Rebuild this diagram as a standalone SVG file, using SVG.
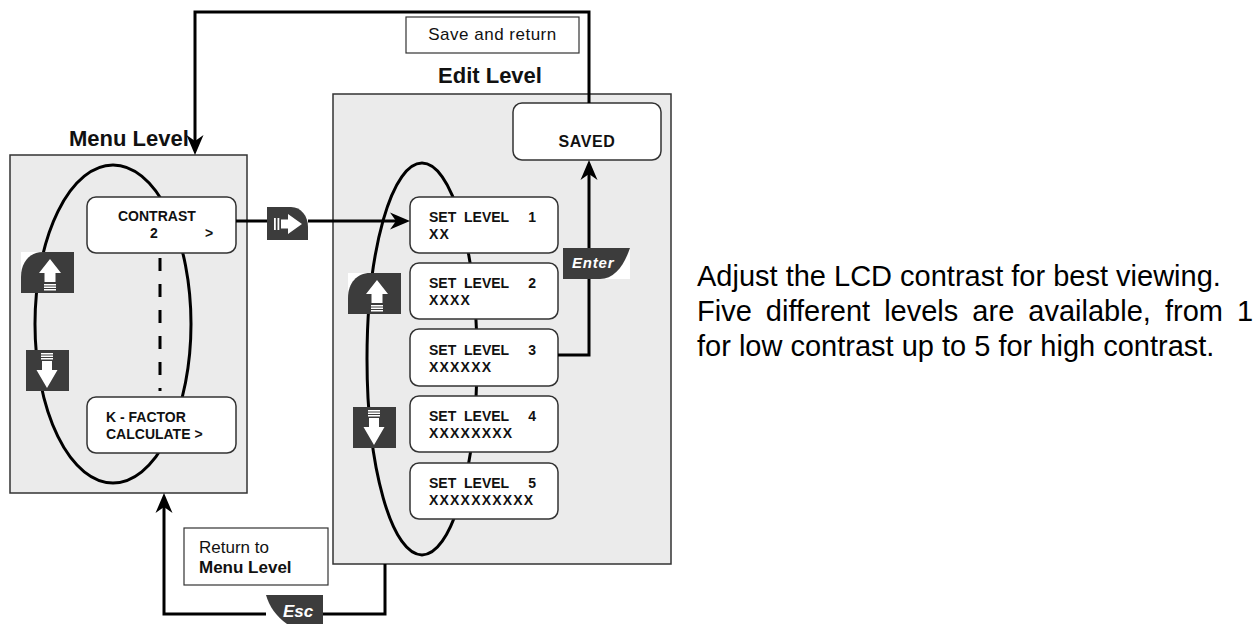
<svg xmlns="http://www.w3.org/2000/svg" xmlns:xlink="http://www.w3.org/1999/xlink" width="1257" height="624" viewBox="0 0 1257 624">
<style>
.panel{fill:#ebebeb;stroke:#333;stroke-width:1.5}
.box{fill:#fff;stroke:#333;stroke-width:1.5}
.lbl{fill:#fff;stroke:#333;stroke-width:1.2}
.loop{fill:none;stroke:#000;stroke-width:3}
.conn{fill:none;stroke:#000;stroke-width:3}
.title{font-family:"Liberation Sans",Arial,sans-serif;font-weight:bold;font-size:22px;fill:#111}
.bt{font-family:"Liberation Sans",Arial,sans-serif;font-weight:bold;font-size:14px;fill:#111}
.xs{letter-spacing:1.2px}
.reg{font-family:"Liberation Sans",Arial,sans-serif;font-size:17px;fill:#111}
.key{font-family:"Liberation Sans",Arial,sans-serif;font-weight:bold;font-style:italic;fill:#fff}
.desc{font-family:"Liberation Sans",Arial,sans-serif;font-size:29px;fill:#000}
.ic{fill:#3c3c3c}
.w{fill:#fff}
</style>
<defs>
<marker id="ah" markerUnits="userSpaceOnUse" markerWidth="20" markerHeight="20" viewBox="0 0 20 20" refX="14" refY="10" orient="auto">
<path d="M0,1.5 L20,10 L0,18.5 L6,10 Z" fill="#000"/>
</marker>
<g id="upIcon">
<rect x="0" y="0" width="53" height="41" fill="#fff"/>
<path class="ic" d="M0,41 V25 C0,10 9,0 22,0 H53 V41 Z"/>
<path class="w" d="M29,7 L40,21 L34.5,21 L34.5,30 L23.5,30 L23.5,21 L18,21 Z"/>
<rect class="w" x="23" y="32" width="12" height="1.5"/>
<rect class="w" x="23" y="34.5" width="12" height="1.5"/>
<rect class="w" x="23" y="37" width="12" height="1.5"/>
</g>
<g id="downIcon">
<rect class="ic" x="0" y="0" width="43" height="41"/>
<rect class="w" x="15" y="3" width="12" height="1.5"/>
<rect class="w" x="15" y="5.5" width="12" height="1.5"/>
<rect class="w" x="15" y="8" width="12" height="1.5"/>
<path class="w" d="M16,11 H26 V20 H31.5 L21,38 L10.5,20 H16 Z"/>
</g>
</defs>

<g id="menu-level">
<rect class="panel" x="10" y="155" width="237" height="338"/>
<text class="title" x="69" y="146">Menu Level</text>
<ellipse class="loop" cx="113" cy="324" rx="78" ry="159"/>
<line x1="160" y1="258" x2="160" y2="391" stroke="#000" stroke-width="3" stroke-dasharray="13 13"/>
</g>

<g id="edit-level">
<rect class="panel" x="333" y="94" width="338" height="470"/>
<text class="title" x="490" y="83" text-anchor="middle">Edit Level</text>
<ellipse class="loop" cx="422" cy="359" rx="55" ry="196"/>
</g>

<g id="contrast">
<rect class="box" x="87" y="197" width="149" height="56" rx="9"/>
<text class="bt" x="118" y="221">CONTRAST</text>
<text class="bt" x="150" y="238">2</text>
<text class="bt" x="205" y="238">&gt;</text>
</g>

<g id="kfactor">
<rect class="box" x="87" y="397" width="149" height="56" rx="9"/>
<text class="bt" x="106" y="422">K - FACTOR</text>
<text class="bt" x="106" y="439">CALCULATE &gt;</text>
</g>

<g id="set-level-1">
<rect class="box" x="410" y="197" width="148" height="56" rx="9"/>
<text class="bt" x="429" y="222" xml:space="preserve">SET  LEVEL</text>
<text class="bt" x="536" y="222" text-anchor="end">1</text>
<text class="bt xs" x="429" y="239">XX</text>
</g>
<g id="set-level-2">
<rect class="box" x="410" y="263" width="148" height="56" rx="9"/>
<text class="bt" x="429" y="288" xml:space="preserve">SET  LEVEL</text>
<text class="bt" x="536" y="288" text-anchor="end">2</text>
<text class="bt xs" x="429" y="305">XXXX</text>
</g>
<g id="set-level-3">
<rect class="box" x="410" y="329" width="148" height="57" rx="9"/>
<text class="bt" x="429" y="355" xml:space="preserve">SET  LEVEL</text>
<text class="bt" x="536" y="355" text-anchor="end">3</text>
<text class="bt xs" x="429" y="372">XXXXXX</text>
</g>
<g id="set-level-4">
<rect class="box" x="410" y="396" width="148" height="56" rx="9"/>
<text class="bt" x="429" y="421" xml:space="preserve">SET  LEVEL</text>
<text class="bt" x="536" y="421" text-anchor="end">4</text>
<text class="bt xs" x="429" y="438">XXXXXXXX</text>
</g>
<g id="set-level-5">
<rect class="box" x="410" y="463" width="148" height="56" rx="9"/>
<text class="bt" x="429" y="488" xml:space="preserve">SET  LEVEL</text>
<text class="bt" x="536" y="488" text-anchor="end">5</text>
<text class="bt xs" x="429" y="505">XXXXXXXXXX</text>
</g>

<g id="saved">
<rect class="box" x="513" y="103" width="148" height="57" rx="9"/>
<text class="bt" x="587" y="147" text-anchor="middle" style="font-size:16px;letter-spacing:0.6px">SAVED</text>
</g>

<g id="save-and-return">
<rect class="lbl" x="406" y="17" width="173" height="36"/>
<text class="reg" x="492.5" y="40" text-anchor="middle" style="letter-spacing:0.5px">Save and return</text>
</g>

<g id="return-to-menu">
<rect class="lbl" x="184" y="528" width="144" height="57"/>
<text class="reg" x="199" y="553">Return to</text>
<text class="reg" x="199" y="573" font-weight="bold">Menu Level</text>
</g>

<g id="connectors">
<path class="conn" d="M589,103 V12 H195 V149" marker-end="url(#ah)"/>
<path class="conn" d="M236,221 H404" marker-end="url(#ah)"/>
<path class="conn" d="M558,355 H589 V166" marker-end="url(#ah)"/>
<path class="conn" d="M385,564 V614 H164 V499" marker-end="url(#ah)"/>
</g>

<g id="menu-up">
<use xlink:href="#upIcon" x="21" y="252"/>
</g>
<g id="menu-down">
<use xlink:href="#downIcon" x="26" y="350"/>
</g>
<g id="edit-up">
<use xlink:href="#upIcon" x="348" y="273"/>
</g>
<g id="edit-down">
<use xlink:href="#downIcon" x="353" y="407"/>
</g>

<g id="forward-key">
<rect x="267" y="207" width="41" height="33" fill="#fff"/>
<path class="ic" d="M267,207 H291 C301,207 308,216 308,227 V240 H267 Z"/>
<rect class="w" x="274" y="218" width="1.8" height="12"/>
<rect class="w" x="277.5" y="218" width="1.8" height="12"/>
<path class="w" d="M281,219.5 H288 V214 L302,224 L288,234 V228.5 H281 Z"/>
</g>

<g id="enter-key">
<rect x="563" y="248" width="67" height="31" fill="#fff"/>
<path class="ic" d="M563,248 H630 C624,266 614,279 600,279 H563 Z"/>
<text class="key" x="572" y="268" style="font-size:15px;letter-spacing:0.8px">Enter</text>
</g>

<g id="esc-key">
<rect x="266" y="595" width="57" height="29" fill="#fff"/>
<path class="ic" d="M266,595 H323 V624 H287 C276,616 269,606 266,595 Z"/>
<text class="key" x="283" y="617" style="font-size:17px">Esc</text>
</g>

<g id="description">
<text class="desc" x="697" y="286">Adjust the LCD contrast for best viewing.</text>
<text class="desc" x="697" y="321" word-spacing="6">Five different levels are available, from 1</text>
<text class="desc" x="697" y="356">for low contrast up to 5 for high contrast.</text>
</g>
</svg>
